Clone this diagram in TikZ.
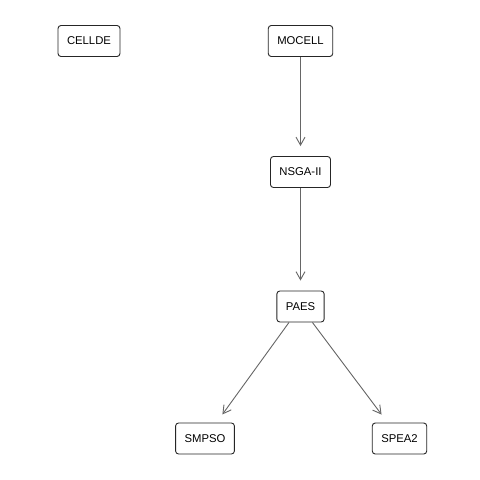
\documentclass[tikz,border=0pt]{standalone}
\usepackage{fontspec}
\setmainfont{Liberation Sans}
\usetikzlibrary{arrows.meta}
\begin{document}
\begin{tikzpicture}[x=1pt,y=-1pt,
  box/.style={draw=black!85,line width=0.9pt,rounded corners=3pt,inner xsep=9pt,inner ysep=0pt,minimum height=31pt,font=\fontsize{11.3}{13}\selectfont,text=black},
  link/.style={draw=black!60,line width=0.9pt,shorten >=10pt,-{Straight Barb[length=8pt,width=9pt,line width=0.9pt]}}]
\useasboundingbox[fill=white] (0,0) rectangle (480,480);
\node[box] (cellde) at (89,41) {CELLDE};
\node[box] (mocell) at (300.5,41) {MOCELL};
\node[box] (nsga) at (300.5,172) {NSGA-II};
\node[box] (paes) at (300.5,306.5) {PAES};
\node[box] (smpso) at (205,438.5) {SMPSO};
\node[box] (spea) at (399.5,438.5) {SPEA2};
\draw[link] (mocell) -- (nsga);
\draw[link] (nsga) -- (paes);
\draw[link] (paes) -- (smpso);
\draw[link] (paes) -- (spea);
\end{tikzpicture}
\end{document}
